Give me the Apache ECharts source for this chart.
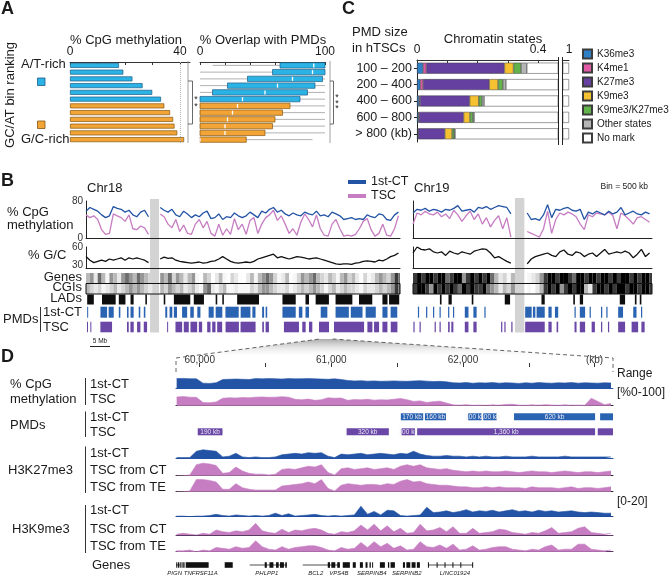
<!DOCTYPE html>
<html>
<head>
<meta charset="utf-8">
<title>PMD figure</title>
<script src="https://cdn.jsdelivr.net/npm/echarts@6.0.0/dist/echarts.min.js"></script>
<style>
  html, body { margin: 0; padding: 0; background: #ffffff; }
  #fig { width: 669px; height: 578px; }
</style>
</head>
<body>
<div id="fig"></div>
<script>
// ---------- panel A : GC/AT bins ----------
var binRanks = ['1', '2', '3', '4', '5', '6', '7', '8', '9', '10', '11', '12'];
var atRichBins = 6;
var cpgMethylation = [17.8, 19.4, 22.7, 26.4, 29.9, 33.1, 34.3, 36.4, 37.5, 38.0, 39.0, 41.5];
// [low, q1, median, q3, high]
var pmdOverlap = [
  [10, 64, 91, 100, 100],
  [0, 58, 90, 100, 100],
  [0, 38, 74, 98, 100],
  [0, 22, 62, 92, 100],
  [0, 10, 52, 86, 100],
  [0, 0, 34, 80, 100],
  [0, 0, 30, 72, 100],
  [0, 0, 26, 66, 100],
  [0, 0, 22, 60, 100],
  [0, 0, 20, 58, 100],
  [0, 0, 20, 52, 100],
  [0, 0, 0, 37, 90]
];

// ---------- panel C : chromatin states ----------
var pmdSizes = ['100 – 200', '200 – 400', '400 – 600', '600 – 800', '> 800 (kb)'];
var stateNames = ['K36me3', 'K4me1', 'K27me3', 'K9me3', 'K9me3/K27me3', 'Other states', 'No mark'];
var k36me3 = [0.020, 0.011, 0.007, 0.005, 0.003];
var k4me1 = [0.011, 0.009, 0.003, 0.002, 0.001];
var k27me3 = [0.258, 0.219, 0.164, 0.147, 0.088];
var k9me3 = [0.030, 0.029, 0.030, 0.021, 0.024];
var k9k27 = [0.025, 0.016, 0.011, 0.010, 0.007];
var otherStates = [0.019, 0.010, 0.007, 0.004, 0.003];
var noMark = [0.637, 0.706, 0.778, 0.811, 0.874];

// ---------- panel B : chromosome tracks, 1 Mb steps ----------
var chr18CT = [58, 66, 62, 58, 50, 44, 48, 68, 64, 62, 56, 60, 50, 46, 56, 60, 46, null, null,
  66, 60, 56, 62, 50, 46, 58, 52, 44, 50, 46, 54, 58, 42, 44, 52, 40, 46, 44, 54, 48, 44, 48, 56, 50,
  44, 58, 54, 62, 66, 56, 60, 52, 48, 54, 50, 48, 56, 52, 50, 58, 48, 50, 46, 56, 52, 48, 40, 42, 44,
  40, 42, 40, 50, 46, 44, 52, 50, 40, 38, 50, 56];
var chr18TSC = [50, 44, 48, 40, 18, 8, 10, 52, 48, 44, 36, 50, 20, 18, 26, 22, 8, null, null,
  52, 46, 30, 22, 40, 14, 28, 10, 8, 30, 40, 22, 36, 10, 4, 30, 6, 20, 8, 42, 18, 30, 8, 38, 44,
  10, 30, 44, 50, 60, 38, 48, 30, 10, 20, 6, 34, 52, 40, 24, 50, 20, 6, 4, 30, 40, 20, 4, 6, 4,
  8, 20, 36, 42, 18, 4, 10, 30, 6, 4, 20, 48];
var chr18GC = [44, 38, 34, 36, 38, 36, 40, 38, 40, 42, 38, 42, 40, 42, 40, 38, 34, null, null,
  40, 43, 41, 42, 38, 36, 35, 34, 33, 34, 35, 33, 34, 36, 37, 40, 44, 40, 36, 34, 33, 34, 35, 34,
  36, 40, 42, 44, 46, 48, 42, 44, 42, 40, 42, 44, 43, 42, 40, 41, 42, 40, 38, 36, 34, 32, 31, 32,
  32, 31, 33, 34, 36, 37, 36, 35, 38, 37, 40, 44, 46, 50];
var chr19CT = [54, 62, 60, 64, 58, 62, 60, 56, 62, 60, 64, 70, 58, 60, 62, 56, 66, 64, 68, 62, 66,
  70, 68, 66, 52, null, null, null,
  54, 40, 42, 38, 50, 72, 44, 62, 60, 64, 66, 60, 58, 62, 40, 56, 52, 58, 54, 50, 58, 52, 56, 66,
  50, 54, 58, 52, 50, 56, 52];
var chr19TSC = [30, 54, 50, 58, 52, 50, 56, 46, 52, 42, 60, 50, 36, 48, 58, 40, 52, 30, 44, 24, 38,
  48, 20, 44, 2, null, null, null,
  14, 10, 6, 2, 20, 58, 10, 40, 54, 50, 56, 52, 46, 30, 18, 50, 46, 54, 52, 50, 56, 48, 20, 54,
  48, 40, 30, 44, 46, 40, 34];
var chr19GC = [50, 60, 56, 55, 57, 52, 50, 52, 46, 53, 50, 48, 52, 50, 48, 53, 55, 57, 56, 50, 42,
  44, 40, 36, 33, null, null, null,
  32, 40, 44, 46, 48, 50, 46, 44, 52, 55, 48, 46, 52, 50, 44, 48, 50, 44, 50, 56, 48, 50, 52, 50,
  53, 50, 42, 48, 56, 44, 50];
// gene / CGI density per Mb, 0 (none) .. 9 (dense)
var chr18Genes = [5, 6, 3, 7, 5, 2, 6, 5, 3, 6, 7, 6, 5, 7, 6, 5, 4, 0, 0, 6, 5, 7, 4, 6, 5, 3, 5, 6, 2, 1,
  5, 4, 0, 3, 5, 2, 1, 4, 3, 1, 0, 3, 5, 2, 5, 6, 7, 6, 4, 2, 3, 5, 1, 2, 4, 6, 5, 6, 7, 5,
  4, 3, 5, 4, 2, 5, 6, 4, 5, 3, 1, 4, 2, 3, 5, 6, 5, 4, 6, 8, 7];
var chr18CGIs = [5, 4, 3, 4, 2, 3, 4, 5, 3, 4, 5, 6, 5, 6, 5, 4, 3, 0, 0, 5, 4, 6, 5, 4, 5, 3, 4, 5, 3, 2,
  6, 7, 3, 2, 4, 5, 2, 2, 3, 2, 2, 2, 4, 3, 5, 6, 6, 5, 4, 3, 3, 4, 2, 3, 4, 5, 4, 5, 6, 5,
  4, 2, 4, 5, 3, 4, 5, 4, 4, 3, 2, 4, 3, 3, 4, 5, 4, 5, 6, 8, 7];
var chr19Genes = [8, 9, 8, 9, 9, 8, 9, 9, 7, 8, 9, 9, 6, 8, 9, 8, 9, 8, 9, 7, 5, 3, 4, 2, 5, 0, 0, 0, 2, 3,
  4, 6, 8, 9, 9, 8, 9, 9, 8, 7, 9, 9, 8, 9, 9, 8, 9, 9, 8, 9, 8, 9, 9, 8, 9, 8, 9, 9, 8];
var chr19CGIs = [8, 9, 9, 8, 6, 9, 8, 9, 8, 9, 8, 7, 9, 8, 9, 8, 8, 9, 7, 6, 5, 3, 5, 4, 6, 0, 0, 0, 2, 1,
  3, 5, 8, 9, 8, 9, 6, 8, 9, 8, 9, 9, 5, 3, 8, 9, 9, 8, 9, 8, 9, 9, 8, 9, 9, 8, 9, 9, 8];
// intervals in Mb
var chr18LADs = [[0.3, 2.0], [4.1, 7.6], [8.4, 10.1], [11.4, 12.2], [15.2, 15.6], [19.9, 20.3], [22.5, 26.7],
  [27.6, 30.2], [33.2, 33.6], [34.9, 35.3], [38.7, 44.3], [50.3, 53.7], [56.2, 57.1], [58.8, 62.2],
  [63.9, 68.2], [69.9, 73.3], [75.9, 77.2], [77.6, 80.2]];
var chr18PmdCT = [[0.3, 0.5], [3.7, 5.4], [5.8, 7.1], [8.4, 8.8], [10.5, 10.9], [11.4, 12.2], [13.5, 13.9],
  [14.8, 15.2], [20.3, 20.8], [21.4, 22.1], [22.5, 23.3], [24.6, 25.9], [26.7, 27.6], [28.5, 29.3],
  [31.4, 32.7], [33.2, 34.9], [35.7, 39.1], [39.6, 42.1], [42.6, 43.4], [45.1, 45.6], [46.0, 46.4],
  [50.3, 53.7], [54.5, 55.4], [56.2, 57.1], [60.1, 61.8], [63.9, 67.3], [67.8, 70.8], [71.6, 74.2],
  [75.9, 77.2], [78.0, 79.7]];
var chr18PmdTSC = [[0.26, 0.51], [1.11, 1.37], [3.68, 6.67], [10.5, 10.94], [11.37, 12.22], [13.08, 13.93],
  [14.79, 15.64], [20.77, 21.03], [22.91, 24.62], [25.04, 26.32], [26.75, 28.46], [28.89, 29.74],
  [31.03, 31.88], [32.31, 33.16], [33.59, 34.87], [35.73, 39.15], [39.57, 43.42], [45.13, 45.56],
  [45.98, 46.84], [50.68, 54.53], [55.38, 56.24], [57.09, 57.95], [59.66, 62.22], [63.5, 71.2],
  [72.05, 73.33], [73.76, 75.04], [75.9, 77.18], [78.03, 79.74]];
var chr19LADs = [[6.6, 7.0], [8.7, 9.5], [14.4, 14.8], [22.5, 23.8], [31.5, 32.3], [39.3, 39.7], [40.9, 41.7],
  [50.7, 52.0], [54.4, 54.8], [55.6, 56.0]];
var chr19PmdCT = [[1.2, 1.5], [3.2, 3.5], [4.9, 5.2], [6.5, 6.8], [8.6, 8.9], [9.8, 10.1], [12.7, 13.6],
  [14.8, 15.6], [17.5, 17.8], [27.5, 29.1], [29.4, 30.0], [30.3, 32.3], [33.2, 34.0], [34.8, 35.6],
  [39.6, 39.9], [40.9, 42.2], [43.3, 43.6], [46.1, 46.4], [47.4, 47.7], [50.3, 51.5], [54.0, 54.8],
  [55.9, 56.2]];
var chr19PmdTSC = [[0.1, 0.4], [1.6, 1.9], [5.3, 5.6], [6.5, 6.8], [8.6, 9.0], [9.4, 9.9], [12.7, 13.6],
  [14.8, 15.6], [21.6, 21.9], [22.4, 22.7], [24.1, 24.4], [27.5, 32.3], [33.2, 34.0], [35.2, 35.6],
  [39.6, 40.1], [40.9, 42.2], [43.8, 44.6], [46.1, 46.4], [47.8, 48.1], [50.3, 52.0], [53.6, 55.2],
  [56.0, 56.8]];
var chr18Cen = [16.4, 18.7];
var chr19Cen = [25.0, 27.3];
var zoomRegion = [59.82, 63.14];

// ---------- panel D : 50 kb bins from 59,825 kb ----------
var dBinStart = 59825, dBinSize = 50;
var dMethCT = [86, 88, 85, 84, 46, 44, 50, 78, 80, 82, 80, 78, 86, 84, 86, 85, 82, 86, 84, 85, 86, 84, 82, 80,
  84, 78, 70, 66, 68, 64, 66, 62, 64, 66, 64, 62, 66, 68, 64, 60, 62, 58, 50, 48, 52, 46, 50, 48, 52, 46,
  50, 48, 44, 50, 46, 52, 48, 46, 50, 48, 52, 46, 50, 48, 46, 50, 48];
var dMethTSC = [82, 85, 80, 78, 30, 28, 35, 70, 74, 72, 76, 74, 80, 82, 78, 80, 84, 80, 60, 55, 62, 50, 56, 74,
  70, 72, 50, 58, 55, 60, 52, 56, 54, 60, 68, 56, 40, 45, 30, 38, 42, 25, 8, 5, 10, 4, 6, 3, 8, 5,
  12, 14, 6, 4, 8, 5, 10, 6, 4, 8, 5, 6, 4, 70, 40, 10, 20];
var dK27CT = [1, 1, 1, 10, 12, 11, 10, 2, 3, 7, 2, 1, 2, 1, 1, 2, 5, 6, 7, 6, 8, 7, 8, 3, 1, 6, 5, 6, 7, 5,
  6, 7, 6, 5, 7, 6, 10, 6, 4, 3, 3, 4, 3, 3, 2, 3, 2, 3, 2, 2, 3, 2, 2, 2, 3, 2, 2, 2, 2, 3, 2, 2, 2, 2, 2, 2, 2];
var dK27TscCT = [0, 0, 1, 14, 16, 15, 13, 3, 4, 11, 6, 3, 2, 2, 1, 2, 8, 9, 8, 10, 12, 11, 14, 4, 1, 9, 10, 8, 9, 10,
  8, 9, 10, 8, 12, 14, 12, 14, 10, 9, 8, 9, 7, 6, 5, 6, 5, 6, 5, 5, 6, 5, 4, 5, 6, 5, 5, 4, 5, 6, 5, 4, 5, 5, 4, 5, 6];
var dK27TscTE = [0, 0, 1, 15, 15, 14, 12, 3, 3, 10, 5, 3, 2, 2, 2, 2, 7, 8, 9, 10, 12, 10, 15, 4, 1, 8, 10, 9, 8, 9,
  9, 8, 10, 9, 13, 15, 12, 13, 10, 9, 8, 8, 7, 6, 6, 5, 5, 6, 5, 6, 5, 5, 5, 4, 6, 5, 5, 5, 4, 5, 6, 4, 5, 5, 4, 5, 6];
var dK9CT = [1, 1, 0, 1, 1, 2, 4, 2, 1, 3, 2, 1, 2, 1, 2, 6, 2, 5, 1, 2, 3, 4, 2, 1, 2, 1, 2, 3, 18, 4,
  9, 3, 11, 10, 2, 1, 2, 3, 16, 7, 8, 10, 7, 9, 12, 8, 10, 9, 11, 8, 10, 12, 9, 10, 8, 11, 9, 10, 8, 9, 10, 8, 7, 8, 7, 6, 6];
var dK9TscCT = [1, 2, 1, 0, 2, 1, 6, 4, 3, 5, 4, 6, 14, 5, 3, 2, 7, 3, 6, 5, 7, 8, 6, 2, 1, 4, 3, 5, 12, 6,
  13, 5, 11, 4, 8, 2, 3, 13, 5, 6, 9, 4, 10, 2, 2, 8, 2, 3, 4, 7, 6, 3, 2, 1, 3, 2, 5, 9, 2, 3, 4, 8, 10, 3, 2, 1, 2];
var dK9TscTE = [1, 1, 2, 0, 2, 1, 5, 4, 3, 6, 4, 5, 13, 6, 3, 2, 6, 3, 5, 6, 7, 7, 5, 2, 1, 5, 3, 4, 11, 5,
  12, 6, 10, 4, 7, 2, 3, 12, 6, 5, 8, 4, 9, 2, 3, 7, 2, 3, 5, 6, 6, 3, 2, 1, 3, 2, 6, 8, 2, 3, 3, 9, 9, 3, 2, 1, 2];
// PMD blocks in kb with their labels
var dPmdCT = [[61528, 61698, '170 kb'], [61711, 61871, '160 kb'], [62040, 62142, '100 kb'],
  [62154, 62256, '100 kb'], [62388, 63004, '620 kb'], [63042, 63141, '']];
var dPmdTSC = [[59985, 60173, '190 kb'], [61116, 61437, '320 kb'], [61534, 61635, '100 kb'],
  [61652, 63004, '1,360 kb'], [63024, 63141, '']];
var dGeneSpans = [[59820, 59850], [60380, 60662], [60783, 61065], [61734, 62076]];
var dExons = [[59822, 59830], [59835, 59842], [59848, 59856], [59862, 59870], [59875, 59885], [59894, 60068],
  [60190, 60251], [60494, 60510], [60530, 60560], [60580, 60600], [60610, 60640], [60650, 60662],
  [60973, 60990], [61000, 61030], [61045, 61065], [61087, 61141], [61163, 61186], [61217, 61240],
  [61260, 61275], [61290, 61300], [61310, 61316], [61369, 61407], [61430, 61440], [61450, 61483],
  [61544, 61560], [61570, 61600], [61610, 61640], [61650, 61673], [61734, 61738], [61800, 61804],
  [61860, 61864], [61920, 61924], [61980, 61984], [62070, 62076]];
var dGeneNames = ['PIGN', 'TNFRSF11A', 'PHLPP1', 'BCL2', 'VPS4B', 'SERPINB4', 'SERPINB2', 'LINC01924'];
var dGeneNamePos = [59810, 60008, 60510, 60882, 61057, 61308, 61574, 61939];

// ---------- styling ----------
var FONT = '"Liberation Sans", Arial, Helvetica, sans-serif';
var INK = '#1a1a1a';
var cBlue = '#2cb3e6', cBlueEdge = '#1b5b86', cOrange = '#f3a437', cOrangeEdge = '#85560f';
var ctBlue = '#2353a5', tscPink = '#c67dc2';
var pmdBlue = '#2a63b2', pmdPurple = '#6a47a6';
var stateColors = ['#2f7fc6', '#e05aa6', '#6540a0', '#f7c231', '#62b34a', '#b5b5b5', '#ffffff'];

var grids = [], xAxes = [], yAxes = [], series = [];
function addGrid(box, xa, ya) {
  var i = grids.length;
  grids.push(box);
  xa.gridIndex = i;
  ya.gridIndex = i;
  xAxes.push(xa);
  yAxes.push(ya);
  return i;
}
function valAxis(min, max, extra) {
  var a = { type: 'value', min: min, max: max, show: false, splitLine: { show: false } };
  for (var k in extra) a[k] = extra[k];
  return a;
}
function lineOnly(min, max, color) {
  return valAxis(min, max, {
    show: true, axisLine: { show: true, onZero: false, lineStyle: { color: color || '#222', width: 1 } },
    axisTick: { show: false }, axisLabel: { show: false }
  });
}
function toPairs(arr, x0, step) {
  return arr.map(function (v, i) { return [x0 + i * step, v == null ? '-' : v]; });
}

// ===== A: % CpG methylation bars =====
var gA1 = addGrid({ left: 70, top: 62, width: 120, height: 81 },
  valAxis(0, 43.64, {
    show: true, position: 'top',
    axisLine: { show: true, lineStyle: { color: '#333' } },
    axisTick: { show: true, inside: true, length: 3, customValues: [0, 10, 20, 30, 40], lineStyle: { color: '#333' } },
    axisLabel: { show: true, customValues: [0, 40], fontSize: 12, color: INK, margin: 4, fontFamily: FONT }
  }),
  { type: 'category', data: binRanks, inverse: true, show: false });
series.push({
  type: 'bar', xAxisIndex: gA1, yAxisIndex: gA1, barWidth: 5, silent: true,
  data: cpgMethylation.map(function (v, i) {
    var at = i < atRichBins;
    return { value: v, itemStyle: { color: at ? cBlue : cOrange, borderColor: at ? cBlueEdge : cOrangeEdge, borderWidth: 0.7 } };
  }),
  markLine: {
    silent: true, symbol: 'none', label: { show: false },
    lineStyle: { color: '#b0b0b0', type: 'dotted', width: 1 },
    data: [{ xAxis: 40 }]
  }
});

// ===== A: % overlap with PMDs boxes =====
var gA2 = addGrid({ left: 200, top: 62, width: 125, height: 81 },
  valAxis(0, 100, {
    show: true, position: 'top',
    axisLine: { show: true, lineStyle: { color: '#333' } },
    axisTick: { show: true, inside: true, length: 3, customValues: [0, 20, 40, 60, 80, 100], lineStyle: { color: '#333' } },
    axisLabel: { show: true, customValues: [0, 100], fontSize: 12, color: INK, margin: 4, fontFamily: FONT }
  }),
  { type: 'category', data: binRanks, inverse: true, show: false });
series.push({
  type: 'custom', xAxisIndex: gA2, yAxisIndex: gA2, silent: true,
  data: pmdOverlap.map(function (d, i) { return [i].concat(d); }),
  encode: { x: [1, 2, 3, 4, 5], y: 0 },
  renderItem: function (params, api) {
    var c = api.value(0);
    var lo = api.coord([api.value(1), c]), q1 = api.coord([api.value(2), c]);
    var md = api.coord([api.value(3), c]), q3 = api.coord([api.value(4), c]);
    var hi = api.coord([api.value(5), c]);
    var h = 5.4, at = params.dataIndex < atRichBins;
    return {
      type: 'group', children: [
        { type: 'line', shape: { x1: lo[0], y1: lo[1], x2: hi[0], y2: hi[1] }, style: { stroke: '#9d9d9d', lineWidth: 0.8 } },
        { type: 'rect', shape: { x: q1[0], y: q1[1] - h / 2, width: q3[0] - q1[0], height: h },
          style: { fill: at ? cBlue : cOrange, stroke: at ? cBlueEdge : cOrangeEdge, lineWidth: 0.7 } },
        { type: 'line', shape: { x1: md[0], y1: md[1] - h / 2 + 0.7, x2: md[0], y2: md[1] + h / 2 - 0.7 },
          style: { stroke: '#ffffff', lineWidth: 1.3 } }
      ]
    };
  }
});

// ===== C: stacked chromatin states =====
var stateValues = [k36me3, k4me1, k27me3, k9me3, k9k27, otherStates, noMark];
var gC1 = addGrid({ left: 417, top: 60, width: 141, height: 82 },
  valAxis(0, 0.466, {
    show: true, position: 'top',
    axisLine: { show: true, lineStyle: { color: '#333' } },
    axisTick: { show: true, inside: true, length: 3, customValues: [0, 0.1, 0.2, 0.3, 0.4], lineStyle: { color: '#333' } },
    axisLabel: { show: true, customValues: [0, 0.4], fontSize: 12, color: INK, margin: 4, fontFamily: FONT }
  }),
  {
    type: 'category', data: pmdSizes, inverse: true,
    axisLine: { show: true, lineStyle: { color: '#222' } },
    axisTick: { show: true, alignWithLabel: true, length: 3, lineStyle: { color: '#222' } },
    axisLabel: { interval: 0, fontSize: 12.5, color: INK, margin: 5, fontFamily: FONT }
  });
var gC2 = addGrid({ left: 563, top: 60, width: 6, height: 82 },
  valAxis(0.96, 1, {
    show: true, position: 'top',
    axisLine: { show: true, lineStyle: { color: '#333' } },
    axisTick: { show: false },
    axisLabel: { show: true, customValues: [1], fontSize: 12, color: INK, margin: 4, fontFamily: FONT }
  }),
  { type: 'category', data: pmdSizes, inverse: true, show: false });
stateNames.forEach(function (n, s) {
  [gC1, gC2].forEach(function (g) {
    series.push({
      type: 'bar', name: n, stack: 'states' + g, xAxisIndex: g, yAxisIndex: g, barWidth: 11, silent: true,
      data: stateValues[s],
      itemStyle: { color: stateColors[s], borderColor: '#3c3c3c', borderWidth: 0.5 }
    });
  });
});

// ===== B: chromosome panels =====
function densityGray(v) {
  var g = Math.round(255 * (1 - Math.pow(v / 9, 2.2)));
  return 'rgb(' + g + ',' + g + ',' + g + ')';
}
function chromPanel(left, width, len, ct, tsc, gc, genes, cgis, lads, pmdCT, pmdTSC, withLabels) {
  var yMeth = valAxis(0, 80, {
    show: true, axisLine: { show: true, onZero: false, lineStyle: { color: '#222' } }, axisTick: { show: false },
    axisLabel: { show: withLabels, customValues: [0, 80], fontSize: 10, color: '#333', margin: 3, fontFamily: FONT }
  });
  var gm = addGrid({ left: left, top: 201, width: width, height: 37 }, lineOnly(0, len), yMeth);
  series.push({ type: 'line', name: 'TSC', xAxisIndex: gm, yAxisIndex: gm, data: toPairs(tsc, 0, 1), showSymbol: false,
    symbol: 'none', connectNulls: false, lineStyle: { color: tscPink, width: 1.3 }, itemStyle: { color: tscPink }, silent: true });
  series.push({ type: 'line', name: '1st-CT', xAxisIndex: gm, yAxisIndex: gm, data: toPairs(ct, 0, 1), showSymbol: false,
    symbol: 'none', connectNulls: false, lineStyle: { color: ctBlue, width: 1.3 }, itemStyle: { color: ctBlue }, silent: true });

  var yGC = valAxis(25, 60, {
    show: true, axisLine: { show: true, onZero: false, lineStyle: { color: '#222' } }, axisTick: { show: false },
    axisLabel: { show: withLabels, customValues: [30, 60], fontSize: 10, color: '#333', margin: 3, fontFamily: FONT }
  });
  var gg = addGrid({ left: left, top: 247, width: width, height: 21 }, lineOnly(0, len), yGC);
  series.push({ type: 'line', xAxisIndex: gg, yAxisIndex: gg, data: toPairs(gc, 0, 1), showSymbol: false, symbol: 'none',
    connectNulls: false, lineStyle: { color: '#111', width: 1.3 }, silent: true });

  var gt = addGrid({ left: left, top: 273, width: width, height: 59.3 }, valAxis(0, len), valAxis(0, 1));
  function density(values, top, h) {
    series.push({ type: 'custom', xAxisIndex: gt, yAxisIndex: gt, silent: true,
      data: values.map(function (v, i) { return [i, i + 1, v]; }), encode: { x: [0, 1] },
      renderItem: function (params, api) {
        var v = api.value(2);
        if (!v) return null;
        var cs = params.coordSys;
        var x0 = api.coord([api.value(0), 0])[0];
        var x1 = Math.min(api.coord([api.value(1), 0])[0], cs.x + cs.width);
        return { type: 'rect', shape: { x: x0, y: cs.y + top, width: x1 - x0, height: h },
          style: { fill: densityGray(v) } };
      } });
  }
  function intervals(list, top, h, color) {
    series.push({ type: 'custom', xAxisIndex: gt, yAxisIndex: gt, silent: true,
      data: list, encode: { x: [0, 1] },
      renderItem: function (params, api) {
        var cs = params.coordSys;
        var x0 = api.coord([api.value(0), 0])[0], x1 = api.coord([api.value(1), 0])[0];
        return { type: 'rect', shape: { x: x0, y: cs.y + top, width: Math.max(x1 - x0, 1), height: h }, style: { fill: color } };
      } });
  }
  density(genes, 0, 10.3);
  density(cgis, 10.5, 10.5);
  series.push({ type: 'custom', xAxisIndex: gt, yAxisIndex: gt, silent: true, data: [[0, len]], encode: { x: [0, 1] },
    renderItem: function (params, api) {
      var cs = params.coordSys;
      return { type: 'rect', shape: { x: cs.x, y: cs.y + 10.5, width: cs.width, height: 10.5 },
        style: { fill: 'none', stroke: '#111', lineWidth: 1 } };
    } });
  intervals(lads, 21.5, 10, '#0d0d0d');
  intervals(pmdCT, 33.7, 11, pmdBlue);
  intervals(pmdTSC, 48.7, 10.6, pmdPurple);
  return gm;
}
var gB18 = chromPanel(86, 314, 80.4, chr18CT, chr18TSC, chr18GC, chr18Genes, chr18CGIs, chr18LADs, chr18PmdCT, chr18PmdTSC, true);
var gB19 = chromPanel(413, 239, 58.6, chr19CT, chr19TSC, chr19GC, chr19Genes, chr19CGIs, chr19LADs, chr19PmdCT, chr19PmdTSC, false);

// ===== D: zoomed genome browser =====
var D_MIN = 59820, D_MAX = 63140, D_LEFT = 176, D_W = 437;
addGrid({ left: D_LEFT, top: 366, width: D_W, height: 1 },
  valAxis(D_MIN, D_MAX, {
    show: true, position: 'top', axisLine: { show: false },
    axisTick: { show: true, length: 4, customValues: [60000, 60500, 61000, 61500, 62000, 62500, 63000], lineStyle: { color: '#333' } },
    axisLabel: { show: true, customValues: [60000, 61000, 62000, 63000], fontSize: 10, color: '#333', margin: 1, fontFamily: FONT,
      formatter: function (v) { return v === 63000 ? '(kb)' : v.toLocaleString('en-US'); } }
  }), valAxis(0, 1));
function dTrack(top, h, max, values, color, base) {
  var g = addGrid({ left: D_LEFT, top: top, width: D_W, height: h }, lineOnly(D_MIN, D_MAX, base), valAxis(0, max));
  series.push({ type: 'line', xAxisIndex: g, yAxisIndex: g, data: toPairs(values, dBinStart, dBinSize), showSymbol: false,
    symbol: 'none', lineStyle: { color: color, width: 0.6 }, itemStyle: { color: color },
    areaStyle: { color: color, opacity: 1 }, silent: true });
}
dTrack(377, 11.5, 100, dMethCT, ctBlue, ctBlue);
dTrack(395, 10.7, 100, dMethTSC, tscPink, '#222');

var dPmdRows = dPmdCT.map(function (d) { return [d[0], d[1], 0]; }).concat(dPmdTSC.map(function (d) { return [d[0], d[1], 1]; }));
var dPmdLabels = dPmdCT.concat(dPmdTSC).map(function (d) { return d[2]; });
var gDP = addGrid({ left: D_LEFT, top: 411, width: D_W, height: 26 }, valAxis(D_MIN, D_MAX), valAxis(0, 1));
series.push({ type: 'custom', xAxisIndex: gDP, yAxisIndex: gDP, silent: true, data: dPmdRows, encode: { x: [0, 1] },
  renderItem: function (params, api) {
    var cs = params.coordSys, row = api.value(2);
    var x0 = api.coord([api.value(0), 0])[0], x1 = Math.min(api.coord([api.value(1), 0])[0], cs.x + cs.width);
    var y = cs.y + (row === 0 ? 2.3 : 17.3);
    var label = dPmdLabels[params.dataIndex];
    var kids = [{ type: 'rect', shape: { x: x0, y: y, width: x1 - x0, height: 7 }, style: { fill: row === 0 ? pmdBlue : pmdPurple } }];
    if (label) {
      kids.push({ type: 'text', x: (x0 + x1) / 2, y: y + 3.7,
        style: { text: label, fill: '#e8e8f4', textFill: '#e8e8f4', fontSize: 6.5, fontFamily: FONT,
          align: 'center', textAlign: 'center', verticalAlign: 'middle', textVerticalAlign: 'middle' } });
    }
    return { type: 'group', children: kids };
  } });

dTrack(447, 11.3, 16, dK27CT, ctBlue, ctBlue);
dTrack(460, 15.7, 20, dK27TscCT, tscPink, '#222');
dTrack(478, 13.7, 17, dK27TscTE, tscPink, '#222');
dTrack(505, 11.7, 20, dK9CT, ctBlue, '#1b3f80');
dTrack(521.7, 13.3, 16, dK9TscCT, tscPink, '#5a3a60');
dTrack(538.3, 13.4, 16, dK9TscTE, tscPink, '#5a3a60');

var gDG = addGrid({ left: D_LEFT, top: 561, width: D_W, height: 9 }, valAxis(D_MIN, D_MAX), valAxis(0, 1));
series.push({ type: 'custom', xAxisIndex: gDG, yAxisIndex: gDG, silent: true, data: dGeneSpans, encode: { x: [0, 1] },
  renderItem: function (params, api) {
    var cs = params.coordSys;
    var x0 = Math.max(api.coord([api.value(0), 0])[0], cs.x), x1 = api.coord([api.value(1), 0])[0];
    return { type: 'line', shape: { x1: x0, y1: cs.y + 4, x2: x1, y2: cs.y + 4 }, style: { stroke: '#222', lineWidth: 0.8 } };
  } });
series.push({ type: 'custom', xAxisIndex: gDG, yAxisIndex: gDG, silent: true, data: dExons, encode: { x: [0, 1] },
  renderItem: function (params, api) {
    var cs = params.coordSys;
    var x0 = Math.max(api.coord([api.value(0), 0])[0], cs.x), x1 = api.coord([api.value(1), 0])[0];
    return { type: 'rect', shape: { x: x0, y: cs.y + 1.2, width: Math.max(x1 - x0, 1), height: 5.6 }, style: { fill: '#111' } };
  } });
series.push({ type: 'custom', xAxisIndex: gDG, yAxisIndex: gDG, silent: true,
  data: dGeneNamePos.map(function (p) { return [p, p]; }), encode: { x: [0, 1] },
  renderItem: function (params, api) {
    var cs = params.coordSys, x = api.coord([api.value(0), 0])[0];
    return { type: 'text', x: x, y: cs.y + 12.5,
      style: { text: dGeneNames[params.dataIndex], fill: '#222', textFill: '#222', fontSize: 6, fontStyle: 'italic', fontFamily: FONT,
        align: 'center', textAlign: 'center', verticalAlign: 'middle', textVerticalAlign: 'middle' } };
  } });

var chart = echarts.init(document.getElementById('fig'));
chart.setOption({
  animation: false,
  backgroundColor: '#ffffff',
  textStyle: { fontFamily: FONT },
  grid: grids,
  xAxis: xAxes,
  yAxis: yAxes,
  legend: [
    { data: stateNames, orient: 'vertical', left: 577, top: 43, icon: 'rect', itemWidth: 9, itemHeight: 9, itemGap: 2, itemSymbolGap: 4,
      selectedMode: false, textStyle: { fontSize: 10, color: INK, fontFamily: FONT, lineHeight: 12 } },
    { data: ['1st-CT', 'TSC'], orient: 'vertical', left: 343, top: 170, icon: 'rect', itemWidth: 18, itemHeight: 4, itemGap: 0,
      selectedMode: false, textStyle: { fontSize: 12.5, color: INK, fontFamily: FONT, lineHeight: 14 } }
  ],
  series: series
});

// ---------- decorations and labels ----------
function txt(x, y, s, size, o) {
  o = o || {};
  return { type: 'text', x: x, y: y, rotation: o.rot || 0, silent: true, z: 5,
    style: { text: s, fontSize: size, fontFamily: FONT, fontWeight: o.bold ? 'bold' : 'normal',
      fill: o.color || INK, textFill: o.color || INK,
      align: o.align || 'left', textAlign: o.align || 'left', verticalAlign: 'middle', textVerticalAlign: 'middle' } };
}
function ln(x1, y1, x2, y2, color, w, dash) {
  return { type: 'line', silent: true, z: 5, shape: { x1: x1, y1: y1, x2: x2, y2: y2 },
    style: { stroke: color || '#333', lineWidth: w || 1, lineDash: dash || null } };
}
var px18 = function (v) { return chart.convertToPixel({ xAxisIndex: gB18 }, v); };
var px19 = function (v) { return chart.convertToPixel({ xAxisIndex: gB19 }, v); };
var zl = px18(zoomRegion[0]), zr = px18(zoomRegion[1]);

var g = [
  // centromeres
  { type: 'rect', silent: true, z: 0, shape: { x: px18(chr18Cen[0]), y: 199, width: px18(chr18Cen[1]) - px18(chr18Cen[0]), height: 133.5 }, style: { fill: '#d3d3d3' } },
  { type: 'rect', silent: true, z: 0, shape: { x: px19(chr19Cen[0]), y: 198, width: px19(chr19Cen[1]) - px19(chr19Cen[0]), height: 134.5 }, style: { fill: '#d3d3d3' } },
  // zoom wedge
  { type: 'polygon', silent: true, z: 0, shape: { points: [[zl, 339], [zr, 339], [613, 358], [176, 358]] },
    style: { fill: { type: 'linear', x: 0, y: 0, x2: 0, y2: 1, colorStops: [{ offset: 0, color: '#a9a9a9' }, { offset: 1, color: 'rgba(255,255,255,0)' }] } } },
  { type: 'polyline', silent: true, z: 1, shape: { points: [[176, 372], [176, 358], [zl, 339]] }, style: { stroke: '#555', lineWidth: 0.9, lineDash: [4, 3], fill: null } },
  { type: 'polyline', silent: true, z: 1, shape: { points: [[zr, 339], [613, 358], [613, 372]] }, style: { stroke: '#555', lineWidth: 0.9, lineDash: [4, 3], fill: null } },

  // panel letters
  txt(1, 9, 'A', 18, { bold: true }), txt(342, 9, 'C', 18, { bold: true }),
  txt(1, 181, 'B', 18, { bold: true }), txt(1, 357, 'D', 18, { bold: true }),

  // A
  txt(10, 95, 'GC/AT bin ranking', 13, { rot: Math.PI / 2, align: 'center' }),
  txt(21, 64, 'A/T-rich', 13), txt(21, 139, 'G/C-rich', 13),
  { type: 'rect', silent: true, z: 5, shape: { x: 37.5, y: 78, width: 7.5, height: 7.5 }, style: { fill: cBlue, stroke: cBlueEdge, lineWidth: 0.8 } },
  { type: 'rect', silent: true, z: 5, shape: { x: 37.5, y: 121, width: 7.5, height: 7.5 }, style: { fill: cOrange, stroke: cOrangeEdge, lineWidth: 0.8 } },
  txt(126, 40, '% CpG methylation', 13, { align: 'center' }),
  txt(263, 40, '% Overlap with PMDs', 13, { align: 'center' }),
  ln(188, 61, 188, 143, '#888', 0.8),
  ln(188, 81, 192.5, 81, '#444', 0.8), ln(192.5, 81, 192.5, 124, '#444', 0.8), ln(188, 124, 192.5, 124, '#444', 0.8),
  txt(196, 100, '*', 9, { align: 'center' }), txt(196, 106.5, '*', 9, { align: 'center' }),
  ln(330, 61, 330, 143, '#888', 0.8),
  ln(330, 81, 333.5, 81, '#444', 0.8), ln(333.5, 81, 333.5, 124, '#444', 0.8), ln(330, 124, 333.5, 124, '#444', 0.8),
  txt(337, 98, '*', 9, { align: 'center' }), txt(337, 103.5, '*', 9, { align: 'center' }), txt(337, 109, '*', 9, { align: 'center' }),

  // C
  txt(352, 32, 'PMD size', 13), txt(352, 48, 'in hTSCs', 13),
  txt(493, 39, 'Chromatin states', 13, { align: 'center' }),
  ln(558.5, 57, 558.5, 145, '#222', 1), ln(562.5, 57, 562.5, 145, '#222', 1),

  // B
  txt(87, 188, 'Chr18', 13), txt(414, 188, 'Chr19', 13),
  txt(648, 187, 'Bin = 500 kb', 8.5, { align: 'right' }),
  txt(7, 212, '% CpG', 13), txt(7, 225, 'methylation', 13),
  txt(28, 255, '% G/C', 13),
  txt(82, 277, 'Genes', 13, { align: 'right' }), txt(82, 287.5, 'CGIs', 13, { align: 'right' }),
  txt(82, 298.5, 'LADs', 13, { align: 'right' }),
  txt(3, 319, 'PMDs', 13), ln(40.5, 307, 40.5, 332, '#333', 1),
  txt(43, 312, '1st-CT', 13), txt(43, 327, 'TSC', 13),
  txt(100, 341, '5 Mb', 6.5, { align: 'center' }), ln(90, 346.5, 110, 346.5, '#222', 1),

  // D
  txt(10, 384, '% CpG', 13), txt(10, 399, 'methylation', 13), ln(85.5, 378, 85.5, 405, '#333', 1),
  txt(90, 384, '1st-CT', 13), txt(90, 399, 'TSC', 13),
  txt(10, 425, 'PMDs', 13), ln(85.5, 411.5, 85.5, 437, '#333', 1),
  txt(90, 417, '1st-CT', 13), txt(90, 432, 'TSC', 13),
  txt(8, 470, 'H3K27me3', 13), ln(85.5, 446.5, 85.5, 493, '#333', 1),
  txt(90, 453, '1st-CT', 13), txt(90, 470, 'TSC from CT', 13), txt(90, 487.5, 'TSC from TE', 13),
  txt(12, 529, 'H3K9me3', 13), ln(85.5, 505, 85.5, 553, '#333', 1),
  txt(90, 510.5, '1st-CT', 13), txt(90, 529, 'TSC from CT', 13), txt(90, 546.5, 'TSC from TE', 13),
  txt(92, 565, 'Genes', 13),
  txt(617, 374, 'Range', 12), txt(617, 393, '[%0-100]', 12), txt(617, 502, '[0-20]', 12)
];
chart.setOption({ graphic: { elements: g } });
</script>
</body>
</html>
